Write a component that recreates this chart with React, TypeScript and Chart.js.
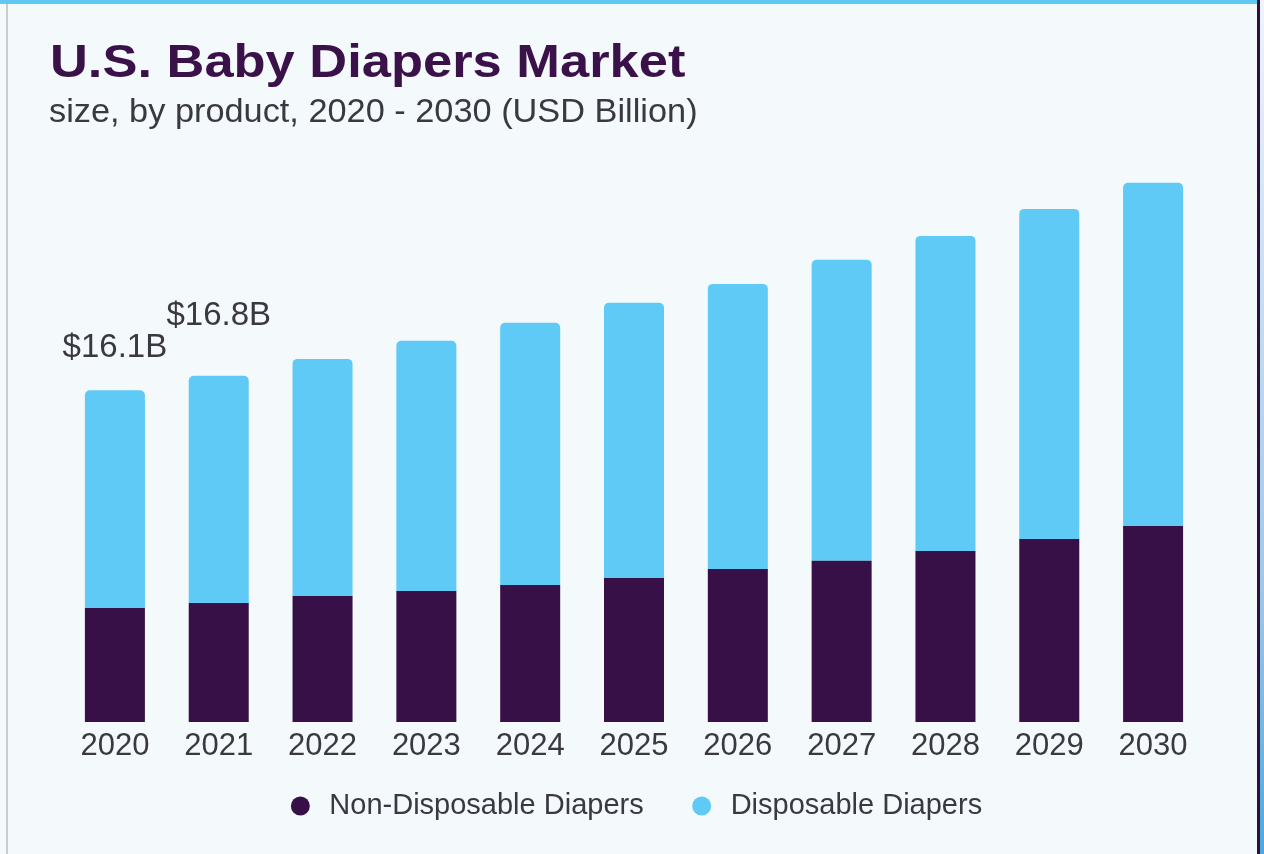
import React, { useEffect, useRef } from "react";
import { Chart, registerables } from "chart.js";

Chart.register(...registerables);

const years = ["2020", "2021", "2022", "2023", "2024", "2025", "2026", "2027", "2028", "2029", "2030"];
const nonDisposable = [5.53, 5.78, 6.12, 6.36, 6.65, 6.99, 7.43, 7.82, 8.3, 8.88, 9.51];
const disposable = [10.57, 11.02, 11.5, 12.14, 12.72, 13.35, 13.83, 14.61, 15.29, 16.02, 16.66];
const totalLabels = ["$16.1B", "$16.8B"];
const seriesNames = ["Non-Disposable Diapers", "Disposable Diapers"];

const DARK = "#371047";
const BLUE = "#5ecaf5";
const TEXT = "#3a3840";
const FONT = "'Liberation Sans', Arial, sans-serif";

const totalLabelPlugin = {
  id: "totalLabels",
  afterDatasetsDraw(chart: any) {
    const ctx = chart.ctx;
    const meta = chart.getDatasetMeta(1);
    const gaps = [33, 51];
    ctx.save();
    ctx.font = `33px ${FONT}`;
    ctx.fillStyle = TEXT;
    ctx.textAlign = "center";
    ctx.textBaseline = "alphabetic";
    totalLabels.forEach((t, i) => {
      const el = meta.data[i];
      if (!el) return;
      ctx.fillText(t, el.x, el.y - gaps[i]);
    });
    ctx.restore();
  },
};

export default function App() {
  const ref = useRef<HTMLCanvasElement | null>(null);

  useEffect(() => {
    if (!ref.current) return;
    const chart = new Chart(ref.current, {
      type: "bar",
      data: {
        labels: years,
        datasets: [
          {
            label: seriesNames[0],
            data: nonDisposable,
            backgroundColor: DARK,
            borderRadius: 0,
          },
          {
            label: seriesNames[1],
            data: disposable,
            backgroundColor: BLUE,
            borderRadius: { topLeft: 5, topRight: 5, bottomLeft: 0, bottomRight: 0 },
            borderSkipped: false,
          },
        ],
      },
      options: {
        animation: false,
        responsive: false,
        devicePixelRatio: 1,
        layout: { padding: { left: 63, right: 59, top: 145, bottom: 23.5 } },
        datasets: { bar: { barPercentage: 0.578, categoryPercentage: 1 } },
        scales: {
          x: {
            stacked: true,
            grid: { display: false, drawTicks: false },
            border: { display: false },
            ticks: {
              color: TEXT,
              padding: 6,
              font: { family: FONT, size: 31 },
              maxRotation: 0,
              autoSkip: false,
            },
            afterFit: (axis: any) => {
              axis.height = 36;
            },
          },
          y: { stacked: true, display: false, min: 0, max: 28 },
        },
        plugins: {
          tooltip: { enabled: false },
          legend: {
            position: "bottom",
            title: {
              display: true,
              text: " ",
              font: { size: 1, lineHeight: 0 },
              padding: { top: -10, bottom: 0 },
            },
            labels: {
              usePointStyle: true,
              pointStyle: "circle",
              boxWidth: 29,
              boxHeight: 13.4,
              padding: 43.5,
              color: TEXT,
              font: { family: FONT, size: 29, lineHeight: 1 },
            },
          },
        },
      },
      plugins: [totalLabelPlugin],
    });
    return () => chart.destroy();
  }, []);

  return (
    <div
      style={{
        position: "fixed",
        left: 0,
        top: 0,
        width: 1264,
        height: 854,
        background: "#f4f9fc",
        overflow: "hidden",
      }}
    >
      <div style={{ position: "absolute", left: 0, top: 0, width: 1260, height: 4, background: "#5ecaf3" }} />
      <div style={{ position: "absolute", left: 6, top: 4, width: 2, height: 850, background: "#c9cbcc" }} />
      <div style={{ position: "absolute", left: 1257, top: 0, width: 3, height: 854, background: "#2e0f3e" }} />
      <div
        style={{
          position: "absolute",
          left: 1260,
          top: 0,
          width: 4,
          height: 854,
          background: "linear-gradient(#eef4fa, #9cc8e8 70%, #4aa8e0)",
        }}
      />
      <canvas
        ref={ref}
        width={1264}
        height={854}
        style={{ position: "absolute", left: 0, top: 0, width: 1264, height: 854 }}
      />
      <div
        style={{
          position: "absolute",
          left: 50,
          top: 38,
          fontFamily: FONT,
          fontWeight: 700,
          fontSize: 46,
          lineHeight: 1,
          color: "#3a1249",
          whiteSpace: "nowrap",
          transform: "scaleX(1.14)",
          transformOrigin: "left top",
        }}
      >
        U.S. Baby Diapers Market
      </div>
      <div
        style={{
          position: "absolute",
          left: 49,
          top: 94,
          fontFamily: FONT,
          fontSize: 33,
          lineHeight: 1,
          color: TEXT,
          whiteSpace: "nowrap",
          transform: "scaleX(1.04)",
          transformOrigin: "left top",
        }}
      >
        size, by product, 2020 - 2030 (USD Billion)
      </div>
    </div>
  );
}
